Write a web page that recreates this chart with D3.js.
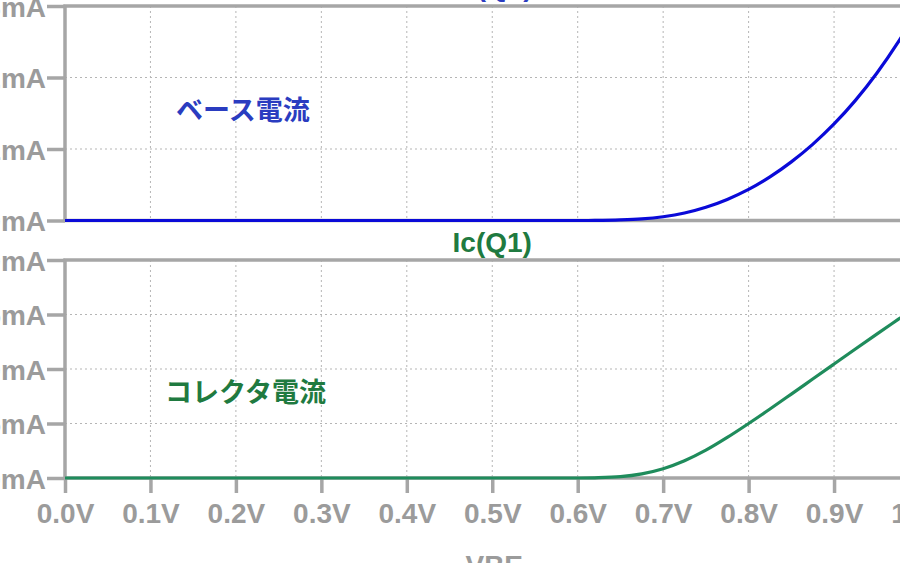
<!DOCTYPE html>
<html>
<head>
<meta charset="utf-8">
<script src="https://cdn.jsdelivr.net/npm/d3@7"></script>
<style>
  html, body { margin: 0; padding: 0; background: #fff; overflow: hidden; }
  svg { display: block; }
</style>
</head>
<body>
<svg id="chart" width="900" height="563"></svg>
<script>
// ---- data ----
const vbe = [0, 0.1, 0.2, 0.3, 0.4, 0.5, 0.6, 0.62, 0.65, 0.675, 0.7, 0.725, 0.75, 0.775, 0.8, 0.825, 0.85, 0.875, 0.9, 0.925, 0.95, 0.975, 1.0];
const ibValues = [0, 0, 0, 0, 0, 0, 0, 0.0001, 0.0008, 0.0022, 0.0053, 0.0105, 0.0185, 0.0295, 0.0435, 0.061, 0.082, 0.1065, 0.135, 0.168, 0.206, 0.2495, 0.299];
const icValues = [0, 0, 0, 0, 0, 0, 0, 0.02, 0.12, 0.38, 0.85, 1.58, 2.55, 3.72, 5.0, 6.33, 7.7, 9.08, 10.46, 11.84, 13.2, 14.55, 15.9];
const xTicks = [0, 0.1, 0.2, 0.3, 0.4, 0.5, 0.6, 0.7, 0.8, 0.9, 1.0];
const ibTicks = [0, 0.1, 0.2, 0.3];
const icTicks = [0, 5, 10, 15, 20];
const ibTitle = "Ib(Q1)";
const icTitle = "Ic(Q1)";
const ibNote = "ベース電流";
const icNote = "コレクタ電流";
const xTitle = "VBE";

// ---- styles ----
const AXIS = "#a6a6a6";
const LABEL = "#9b9b9b";
const GRID = "#b5b5b5";
const BLUE_LINE = "#0a0ad8";
const BLUE_TEXT = "#2a3cc0";
const GREEN_LINE = "#1f8c5c";
const GREEN_TEXT = "#1f7a40";
const LATIN = "'Liberation Sans', Arial, sans-serif";
const CJK = "'Noto Sans CJK JP', 'Noto Sans CJK SC', sans-serif";

const svg = d3.select("#chart");

const x = d3.scaleLinear().domain([0, 1]).range([65, 919.5]);
const yB = d3.scaleLinear().domain([0, 0.3]).range([220.5, 6]);
const yC = d3.scaleLinear().domain([0, 20]).range([478, 260]);

const ib = vbe.map((v, i) => ({ v, y: ibValues[i] }));
const ic = vbe.map((v, i) => ({ v, y: icValues[i] }));

function panel(y, ticks, fmt, showX) {
  const g = svg.append("g");
  const [y0, y1] = y.range();
  const [x0, x1] = x.range();
  // grid
  g.selectAll(".vg").data(xTicks.slice(1, -1)).join("line")
    .attr("x1", d => x(d)).attr("x2", d => x(d))
    .attr("y1", y1).attr("y2", y0)
    .attr("stroke", GRID).attr("stroke-width", 1).attr("stroke-dasharray", "2,3");
  g.selectAll(".hg").data(ticks.slice(1, -1)).join("line")
    .attr("x1", x0).attr("x2", x1)
    .attr("y1", d => y(d)).attr("y2", d => y(d))
    .attr("stroke", GRID).attr("stroke-width", 1).attr("stroke-dasharray", "2,3");
  // frame
  g.append("rect")
    .attr("x", x0).attr("y", y1).attr("width", x1 - x0).attr("height", y0 - y1)
    .attr("fill", "none").attr("stroke", AXIS).attr("stroke-width", 3.5);
  // y axis
  const ya = g.append("g").attr("transform", `translate(${x0},0)`)
    .call(d3.axisLeft(y).tickValues(ticks).tickFormat(fmt).tickSize(18).tickPadding(1));
  ya.select(".domain").remove();
  ya.selectAll("line").attr("stroke", AXIS).attr("stroke-width", 3.5);
  ya.selectAll("text").attr("fill", LABEL).attr("dy", "0.36em")
    .style("font", `bold 28px ${LATIN}`);
  if (showX) {
    const xa = g.append("g").attr("transform", `translate(0,${y0})`)
      .call(d3.axisBottom(x).tickValues(xTicks).tickFormat(d => d3.format(".1f")(d) + "V").tickSize(15).tickPadding(10));
    xa.select(".domain").remove();
    xa.selectAll("line").attr("stroke", AXIS).attr("stroke-width", 3.5);
    xa.selectAll("text").attr("fill", LABEL).attr("dy", "0.71em")
      .style("font", `bold 28px ${LATIN}`);
  }
  return g;
}

panel(yB, ibTicks, d => d3.format(".1f")(d) + "mA", false);
panel(yC, icTicks, d => d + "mA", true);

// curves
svg.append("path").datum(ib)
  .attr("fill", "none").attr("stroke", BLUE_LINE).attr("stroke-width", 3.2)
  .attr("d", d3.line().x(d => x(d.v)).y(d => yB(d.y)).curve(d3.curveCatmullRom.alpha(0.5)));
svg.append("path").datum(ic)
  .attr("fill", "none").attr("stroke", GREEN_LINE).attr("stroke-width", 3.2)
  .attr("d", d3.line().x(d => x(d.v)).y(d => yC(d.y)).curve(d3.curveCatmullRom.alpha(0.5)));

// titles
const cx = (x.range()[0] + x.range()[1]) / 2;
svg.append("text").attr("x", cx).attr("y", -4.5).attr("text-anchor", "middle")
  .attr("fill", BLUE_TEXT).style("font", `bold 28px ${LATIN}`).text(ibTitle);
svg.append("text").attr("x", cx).attr("y", 252).attr("text-anchor", "middle")
  .attr("fill", GREEN_TEXT).style("font", `bold 28px ${LATIN}`).text(icTitle);
svg.append("text").attr("x", cx + 2).attr("y", 575).attr("text-anchor", "middle")
  .attr("fill", LABEL).style("font", `bold 28px ${LATIN}`).text(xTitle);

// annotations
svg.append("text").attr("x", 176).attr("y", 108).attr("dominant-baseline", "central")
  .attr("fill", BLUE_TEXT).style("font", `bold 27px ${CJK}`).text(ibNote);
svg.append("text").attr("x", 165).attr("y", 390).attr("dominant-baseline", "central")
  .attr("fill", GREEN_TEXT).style("font", `bold 27px ${CJK}`).text(icNote);
</script>
</body>
</html>
